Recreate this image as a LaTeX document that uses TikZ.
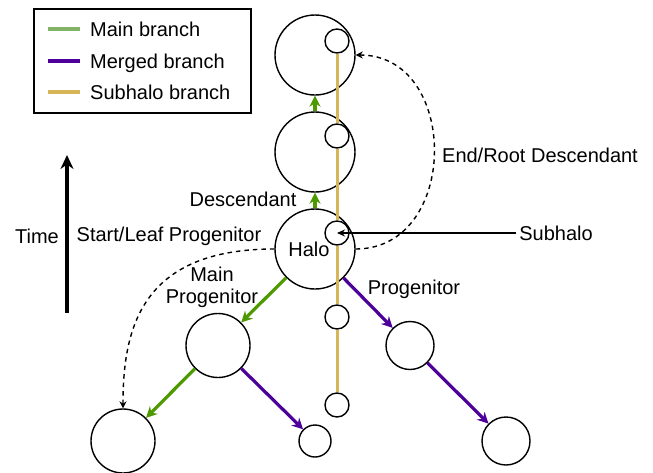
\documentclass[tikz,border=0pt]{standalone}
\usepackage{fontspec}
\setmainfont{Liberation Sans}
\usetikzlibrary{arrows.meta,calc,positioning}
\definecolor{mainbr}{HTML}{4D9900}
\definecolor{mainleg}{HTML}{82B366}
\definecolor{mergebr}{HTML}{4C0099}
\definecolor{subbr}{HTML}{D6B656}

\begin{document}
\begin{tikzpicture}[x=1pt,y=-1pt,% pixel-like coordinates, y pointing down
	every node/.style={
		align=center,		% so that "\\" breaks the line
		font=\fontsize{20}{22}\selectfont
		},
	halo/.style={circle,draw=black,line width=1.4pt,inner sep=0pt},
	mainarrow/.style={draw=mainbr,line width=3.2pt,-{Stealth[length=11pt,width=11pt]}},
	mergearrow/.style={draw=mergebr,line width=3.2pt,-{Stealth[length=11pt,width=11pt]}},
	subline/.style={draw=subbr,line width=3pt},
	dasharrow/.style={draw,dash pattern=on 4.5pt off 4pt,line width=1.4pt,-{Stealth[length=7pt,width=7pt]}}
	]
\useasboundingbox (0,0) rectangle (653,472);

% legend
\node[rectangle,draw=black,line width=1.4pt,minimum width=217pt,minimum height=104pt](legend) at (142.5,61){};
\foreach \y/\col/\txt in {29/mainleg/Main branch,61/mergebr/Merged branch,92/subbr/Subhalo branch}{
	\draw[\col,line width=3.2pt] (48,\y) -- (80,\y);
	\node[anchor=base west,inner sep=0pt] at (90,{\y+7}) {\txt};
}

% halos along the main branch
\node[halo,minimum size=80pt](top) at (315,55){};
\node[halo,minimum size=80pt](mid) at (315,152){};
\node[halo,minimum size=80pt,label={[xshift=-6pt]center:Halo}](halo) at (315,249){};
% progenitors
\node[halo,minimum size=64pt](mainprog) at (218,345.5){};
\node[halo,minimum size=64pt](leaf) at (123,441){};
\node[halo,minimum size=32pt](mpsub) at (315,441){};
\node[halo,minimum size=48pt](prog) at (410,345.5){};
\node[halo,minimum size=48pt](progsub) at (506,441){};
% subhalo branch
\node[halo,minimum size=24pt](subA) at (337,41){};
\node[halo,minimum size=24pt](subB) at (337,136){};
\node[halo,minimum size=24pt](subC) at (337,233){};
\node[halo,minimum size=24pt](subD) at (337,317){};
\node[halo,minimum size=24pt](subE) at (337,405){};

% labels
\node(desc) at (243,199){Descendant};
\node(time) at (37,236){Time};
\node(leaflab) at (169,236){Start/Leaf Progenitor};
\node(mplab) at (212,287){Main\\Progenitor};
\node(proglab) at (414,289){Progenitor};
\node(rootlab) at (540,155){End/Root Descendant};
\node(sublab) at (556,233){Subhalo};

% time axis
\coordinate (tlow) at (67,313);
\coordinate (thigh) at (67,155);
\draw[line width=3.2pt,-{Stealth[length=14pt,width=13pt]}] (tlow) -- (thigh);

\path
(mid)edge [mainarrow] (top)
(halo)edge [mainarrow] (mid)
(halo)edge [mainarrow] (mainprog)
(mainprog)edge [mainarrow] (leaf)
(halo)edge [mergearrow] (prog)
(mainprog)edge [mergearrow] (mpsub)
(prog)edge [mergearrow] (progsub)
(subA)edge [subline] (subB)
(subB)edge [subline] (subC)
(subC)edge [subline] (subD)
(subD)edge [subline] (subE)
(sublab)edge [line width=1.4pt,-{Stealth[length=8pt,width=7pt]}] (subC.center)
;

\draw[dasharrow] (halo.east) .. controls (460,249) and (460,55) .. (top.east);
\draw[dasharrow] (halo.west) .. controls (140,249) and (123,330) .. (leaf.north);
\end{tikzpicture}
\end{document}
